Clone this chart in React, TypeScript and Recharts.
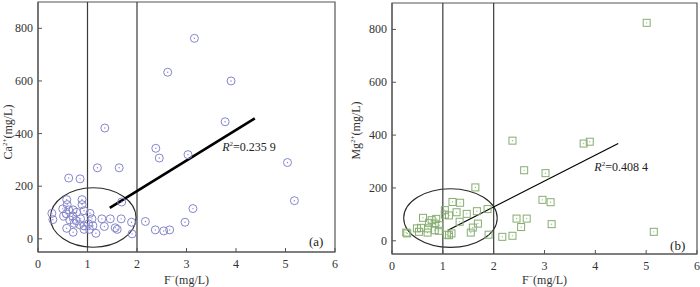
import React from 'react';
import { ScatterChart, Scatter, XAxis, YAxis, ReferenceLine, ReferenceArea, ReferenceDot, Label } from 'recharts';

// ---- data ----
const X_TICKS = [0, 1, 2, 3, 4, 5, 6];
const Y_TICKS = [0, 200, 400, 600, 800];
const X_DOMAIN: [number, number] = [0, 6];
const Y_DOMAIN: [number, number] = [-50, 900];
const DIVIDERS = [1, 2];

// F- (mg/L), Ca2+ (mg/L)
const caPoints: [number, number][] = [
  [0.28, 97], [0.30, 73], [0.50, 114], [0.52, 86], [0.57, 95], [0.58, 149], [0.58, 40], [0.59, 130],
  [0.62, 110], [0.62, 231], [0.64, 72], [0.70, 87], [0.71, 110], [0.71, 25], [0.73, 59], [0.77, 69],
  [0.78, 101], [0.84, 54], [0.85, 228], [0.86, 76], [0.89, 149], [0.89, 130], [0.93, 107], [0.93, 49],
  [0.93, 36], [1.02, 57], [1.04, 36], [1.05, 97], [1.09, 76], [1.11, 50], [1.17, 21], [1.20, 270],
  [1.29, 76], [1.34, 47], [1.35, 421], [1.46, 76], [1.56, 42], [1.60, 36], [1.64, 270], [1.68, 76],
  [1.69, 140], [1.89, 63], [1.90, 19], [2.17, 66], [2.37, 34], [2.38, 344], [2.45, 307], [2.54, 30],
  [2.62, 633], [2.66, 34], [2.97, 63], [3.03, 320], [3.13, 115], [3.16, 762], [3.78, 445], [3.90, 600],
  [5.04, 290], [5.18, 145],
];

// F- (mg/L), Mg2+ (mg/L)
const mgPoints: [number, number][] = [
  [0.28, 31], [0.30, 28], [0.49, 47], [0.53, 34], [0.57, 49], [0.61, 87], [0.70, 31], [0.71, 47],
  [0.73, 68], [0.78, 78], [0.84, 65], [0.84, 40], [0.87, 83], [0.92, 38], [0.93, 59], [1.04, 116],
  [1.04, 99], [1.08, 23], [1.12, 96], [1.12, 21], [1.17, 28], [1.19, 147], [1.27, 108], [1.33, 72],
  [1.34, 144], [1.47, 102], [1.55, 31], [1.59, 50], [1.64, 202], [1.67, 112], [1.69, 65], [1.88, 120],
  [1.90, 23], [2.17, 15], [2.37, 19], [2.37, 379], [2.45, 84], [2.54, 52], [2.60, 267], [2.65, 84],
  [2.96, 155], [3.02, 256], [3.12, 146], [3.14, 63], [3.77, 368], [3.89, 375], [5.01, 825], [5.15, 34],
];

// regression segments (start, end)
const caFit: [number, number][] = [[1.45, 118], [4.38, 458]];
const mgFit: [number, number][] = [[1.10, 40], [4.45, 368]];

// ellipse bounding boxes [x1, x2, y1, y2]
const caEllipse = [0.25, 1.98, -32, 194];
const mgEllipse = [0.23, 2.07, -25, 197];

const caR2 = { x: 3.72, y: 333, text: '=0.235 9' };
const mgR2 = { x: 3.98, y: 266, text: '=0.408 4' };
const caTag = { x: 5.62, y: -27, text: '(a)' };
const mgTag = { x: 5.62, y: -35, text: '(b)' };

const FONT = '"Liberation Serif", "Times New Roman", serif';
const TEXT = '#333';
const FRAME = '#555';

const CircleMark = (p: any) => (
  <g>
    <circle cx={p.cx} cy={p.cy} r={4} fill="none" stroke="#8585cb" strokeWidth={1} />
    <circle cx={p.cx} cy={p.cy} r={0.7} fill="#8585cb" />
  </g>
);

const SquareMark = (p: any) => (
  <g>
    <rect x={p.cx - 3.5} y={p.cy - 3.5} width={7} height={7} fill="none" stroke="#86ad70" strokeWidth={1} />
    <circle cx={p.cx} cy={p.cy} r={0.6} fill="#86ad70" />
  </g>
);

const XTick = (p: any) => (
  <g>
    <line x1={p.x} x2={p.x} y1={p.y} y2={p.y - 4} stroke={FRAME} strokeWidth={1} />
    <text x={p.x} y={p.y + 16} textAnchor="middle" fontSize={12} fontFamily={FONT} fill={TEXT}>
      {p.payload.value}
    </text>
  </g>
);

const YTick = (p: any) => (
  <g>
    <line x1={p.x} x2={p.x + 4} y1={p.y} y2={p.y} stroke={FRAME} strokeWidth={1} />
    <text x={p.x - 5} y={p.y + 4} textAnchor="end" fontSize={12} fontFamily={FONT} fill={TEXT}>
      {p.payload.value}
    </text>
  </g>
);

type PanelProps = {
  left: number;
  width: number;
  top: number;
  right: number;
  yAxisWidth: number;
  xAxisHeight: number;
  points: [number, number][];
  fit: [number, number][];
  fitWidth: number;
  ellipse: number[];
  r2: { x: number; y: number; text: string };
  tag: { x: number; y: number; text: string };
  ion: string;
  ionCharge: string;
  yLabelDx: number;
  yLabelDy: number;
  shape: any;
};

function Panel(props: PanelProps) {
  const data = props.points.map(([f, v]) => ({ f, v }));
  const [ex1, ex2, ey1, ey2] = props.ellipse;
  return (
    <div style={{ position: 'absolute', left: props.left, top: 0 }}>
      <ScatterChart
        width={props.width}
        height={287}
        margin={{ top: props.top, right: props.right, bottom: 0, left: 0 }}
      >
        <XAxis
          type="number"
          dataKey="f"
          domain={X_DOMAIN}
          ticks={X_TICKS}
          interval={0}
          allowDataOverflow
          height={props.xAxisHeight}
          tickLine={false}
          tickSize={0}
          tickMargin={0}
          axisLine={{ stroke: FRAME }}
          tick={<XTick />}
        >
          <Label
            content={(lp: any) => {
              const vb = lp.viewBox;
              const cx = vb.x + vb.width / 2;
              return (
                <text x={cx} y={284} textAnchor="middle" fontSize={12} fontFamily={FONT} fill={TEXT}>
                  F<tspan fontSize={8} dy={-5}>−</tspan>
                  <tspan dy={5}>(mg/L)</tspan>
                </text>
              );
            }}
          />
        </XAxis>
        <YAxis
          type="number"
          dataKey="v"
          domain={Y_DOMAIN}
          ticks={Y_TICKS}
          interval={0}
          allowDataOverflow
          width={props.yAxisWidth}
          tickLine={false}
          tickSize={0}
          tickMargin={0}
          axisLine={{ stroke: FRAME }}
          tick={<YTick />}
        >
          <Label
            content={(lp: any) => {
              const vb = lp.viewBox;
              const bx = vb.x + props.yLabelDx;
              const cy = vb.y + vb.height / 2 + props.yLabelDy;
              return (
                <text
                  x={bx}
                  y={cy}
                  transform={`rotate(-90 ${bx} ${cy})`}
                  textAnchor="middle"
                  fontSize={12}
                  fontFamily={FONT}
                  fill={TEXT}
                >
                  {props.ion}
                  <tspan fontSize={7} dy={-5}>{props.ionCharge}</tspan>
                  <tspan dy={5}>(mg/L)</tspan>
                </text>
              );
            }}
          />
        </YAxis>
        <ReferenceArea
          x1={X_DOMAIN[0]}
          x2={X_DOMAIN[1]}
          y1={Y_DOMAIN[0]}
          y2={Y_DOMAIN[1]}
          fill="none"
          fillOpacity={0}
          stroke={FRAME}
          strokeWidth={1.2}
          ifOverflow="visible"
        />
        {DIVIDERS.map((d) => (
          <ReferenceLine key={d} x={d} stroke="#3a3a3a" strokeWidth={1.2} />
        ))}
        <ReferenceArea
          x1={ex1}
          x2={ex2}
          y1={ey1}
          y2={ey2}
          ifOverflow="visible"
          shape={(sp: any) => (
            <ellipse
              cx={sp.x + sp.width / 2}
              cy={sp.y + sp.height / 2}
              rx={Math.abs(sp.width) / 2}
              ry={Math.abs(sp.height) / 2}
              fill="none"
              stroke="#2a2a2a"
              strokeWidth={1.1}
            />
          )}
        />
        <Scatter data={data} isAnimationActive={false} shape={props.shape} />
        <ReferenceLine
          segment={[
            { x: props.fit[0][0], y: props.fit[0][1] },
            { x: props.fit[1][0], y: props.fit[1][1] },
          ]}
          stroke="#000"
          strokeWidth={props.fitWidth}
          ifOverflow="visible"
        />
        <ReferenceDot
          x={props.r2.x}
          y={props.r2.y}
          r={0}
          ifOverflow="visible"
          shape={(dp: any) => (
            <text x={dp.cx} y={dp.cy} fontSize={12} fontFamily={FONT} fill="#222">
              <tspan fontStyle="italic">R</tspan>
              <tspan fontSize={7} dy={-5}>2</tspan>
              <tspan dy={5}>{props.r2.text}</tspan>
            </text>
          )}
        />
        <ReferenceDot
          x={props.tag.x}
          y={props.tag.y}
          r={0}
          ifOverflow="visible"
          shape={(dp: any) => (
            <text x={dp.cx} y={dp.cy} fontSize={13} textAnchor="middle" fontFamily={FONT} fill="#222">
              {props.tag.text}
            </text>
          )}
        />
      </ScatterChart>
    </div>
  );
}

export default function App() {
  return (
    <div style={{ position: 'absolute', left: 0, top: 0, width: 700, height: 287, background: '#fff', overflow: 'hidden' }}>
      <Panel
        left={0}
        width={340}
        top={2}
        right={5}
        yAxisWidth={38}
        xAxisHeight={35}
        points={caPoints}
        fit={caFit}
        fitWidth={2.6}
        ellipse={caEllipse}
        r2={caR2}
        tag={caTag}
        ion="Ca"
        ionCharge="2+"
        yLabelDx={12}
        yLabelDy={5}
        shape={CircleMark}
      />
      <Panel
        left={340}
        width={360}
        top={3}
        right={3}
        yAxisWidth={52}
        xAxisHeight={33}
        points={mgPoints}
        fit={mgFit}
        fitWidth={1.2}
        ellipse={mgEllipse}
        r2={mgR2}
        tag={mgTag}
        ion="Mg"
        ionCharge="2+"
        yLabelDx={20}
        yLabelDy={2}
        shape={SquareMark}
      />
    </div>
  );
}
